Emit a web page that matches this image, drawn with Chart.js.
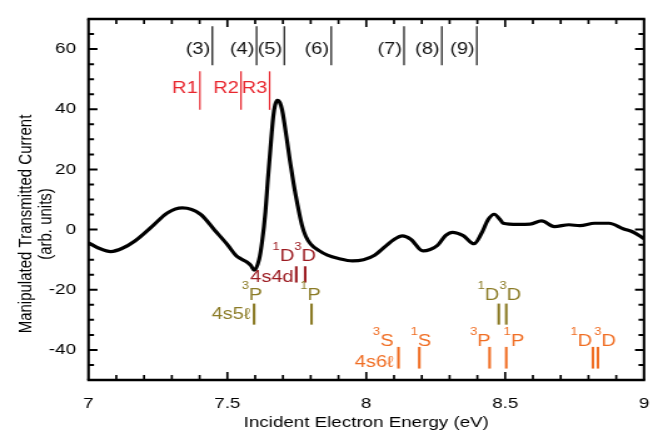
<!DOCTYPE html>
<html>
<head>
<meta charset="utf-8">
<script src="https://cdn.jsdelivr.net/npm/chart.js@4.4.0/dist/chart.umd.min.js"></script>
<style>
html,body{margin:0;padding:0;background:#fff;overflow:hidden;}
#wrap{position:absolute;left:0;top:0;width:534px;height:433px;transform:scaleX(1.250936);transform-origin:0 0;}
canvas{display:block;}
</style>
</head>
<body>
<div id="wrap"><canvas id="c" width="534" height="433"></canvas></div>
<script>
// ---------- data ----------
const energyEV = [7.00, 7.04, 7.08, 7.12, 7.167, 7.232, 7.285, 7.338, 7.403, 7.455, 7.50, 7.53, 7.55, 7.57, 7.585, 7.596,
  7.614, 7.625, 7.637, 7.646, 7.655, 7.665, 7.672, 7.68, 7.689, 7.697, 7.705, 7.714, 7.725, 7.738, 7.752, 7.768, 7.782,
  7.80, 7.83, 7.86, 7.90, 7.95, 7.99,
  8.03, 8.07, 8.10, 8.13, 8.16, 8.204, 8.23, 8.257, 8.285, 8.31, 8.349, 8.388, 8.414, 8.44, 8.461, 8.48, 8.493, 8.546,
  8.59, 8.631, 8.677, 8.73, 8.769, 8.822, 8.874, 8.927, 8.96, 9.00];
const transmitted = [-4.4, -6.3, -7.3, -6.3, -3.8, 1.3, 5.6, 7.2, 5.1, -0.3, -5.0, -8.5, -9.8, -10.8, -12.0, -13.5,
  -10.0, -4.0, 6.0, 17.0, 27.0, 37.5, 41.5, 43.0, 42.2, 39.8, 35.5, 30.0, 23.0, 15.5, 8.5, 1.6, -2.2,
  -4.8, -7.0, -8.5, -9.6, -10.4, -10.0,
  -8.5, -5.5, -3.3, -2.1, -3.2, -7.1, -6.6, -5.2, -2.0, -0.9, -2.0, -4.7, -1.4, 3.5, 5.1, 3.5, 2.1, 1.7,
  1.8, 2.9, 1.0, 1.6, 1.3, 2.1, 2.1, 0.2, -0.8, -3.0];
const xTickValues = [7, 7.5, 8, 8.5, 9];
const yTickValues = [-40, -20, 0, 20, 40, 60];
const featureLabels = ['(3)', '(4)', '(5)', '(6)', '(7)', '(8)', '(9)'];
const featureEnergies = [7.446, 7.605, 7.705, 7.874, 8.136, 8.272, 8.398];
const resonanceLabels = ['R1', 'R2', 'R3'];
const resonanceEnergies = [7.401, 7.549, 7.652];
const terms4s4d = ['1D', '3D'];
const energies4s4d = [7.748, 7.780];
const terms4s5l = ['3P', '1P', '1D', '3D'];
const energies4s5l = [7.596, 7.803, 8.477, 8.504];
const terms4s6l = ['3S', '1S', '3P', '1P', '1D', '3D'];
const energies4s6l = [8.116, 8.191, 8.444, 8.504, 8.816, 8.834];

// ---------- layout / style ----------
const SX = 668 / 534;
const FAM = "'Liberation Sans', Arial, Helvetica, sans-serif";
const rowFeat = {top: 67.6, bottom: 54.6, text: 59.9, color: '#111111'};
const rowRes = {top: 52.6, bottom: 39.8, text: 46.8, color: '#e8262e'};
const groups = [
  {name: '4s4d', terms: terms4s4d, energies: energies4s4d, color: '#9c1c22', top: -12.2, bottom: -17.6, gap: 5,
   nameGap: 2.6, nameDy: 3, place: [['right', -2], ['center', 0]]},
  {name: '4s5ℓ', terms: terms4s5l, energies: energies4s5l, color: '#8b7b26', top: -24.6, bottom: -31.6, gap: 3.5,
   nameGap: 3.7, nameDy: 0.5, place: [['center', -2], ['center', -1], ['right', 0.5], ['center', 4]]},
  {name: '4s6ℓ', terms: terms4s6l, energies: energies4s6l, color: '#f06e24', top: -39, bottom: -46.2, gap: 0.5,
   nameGap: 5, nameDy: 4.5, place: [['right', -5], ['center', 1.5], ['right', 1], ['left', -2.7], ['right', -0.7], ['left', -3.7]]}
];

function drawTerm(ctx, term, x, base, align, color) {
  const sup = term.charAt(0), main = term.slice(1);
  ctx.font = '10.5px ' + FAM;
  const ws = ctx.measureText(sup).width;
  ctx.font = '16px ' + FAM;
  const wm = ctx.measureText(main).width;
  const w = ws + wm;
  const x0 = align === 'right' ? x - w : (align === 'center' ? x - w / 2 : x);
  ctx.fillStyle = color;
  ctx.textAlign = 'left';
  ctx.textBaseline = 'alphabetic';
  ctx.font = '10.5px ' + FAM;
  ctx.fillText(sup, x0, base - 11.5);
  ctx.font = '16px ' + FAM;
  ctx.fillText(main, x0 + ws, base);
}

const framePlugin = {
  id: 'frame',
  afterDraw(chart) {
    const {ctx, chartArea: a, scales: {x, y}} = chart;
    ctx.save();
    ctx.strokeStyle = '#000';
    ctx.lineCap = 'butt';
    ctx.lineWidth = 2.5;
    ctx.beginPath();
    ctx.moveTo(a.left - 1, a.top); ctx.lineTo(a.right + 1, a.top);
    ctx.moveTo(a.left - 1, a.bottom); ctx.lineTo(a.right + 1, a.bottom);
    ctx.stroke();
    ctx.lineWidth = 2.1;
    ctx.beginPath();
    ctx.moveTo(a.left, a.top); ctx.lineTo(a.left, a.bottom);
    ctx.moveTo(a.right, a.top); ctx.lineTo(a.right, a.bottom);
    ctx.stroke();
    ctx.lineWidth = 1.7;
    ctx.beginPath();
    for (let i = 1; i < 20; i++) {
      const e = 7 + i / 10;
      const len = (i % 5 === 0) ? 8 : 5;
      const px = x.getPixelForValue(e);
      ctx.moveTo(px, a.bottom); ctx.lineTo(px, a.bottom - len);
      ctx.moveTo(px, a.top); ctx.lineTo(px, a.top + len);
    }
    ctx.stroke();
    ctx.lineWidth = 2;
    ctx.beginPath();
    for (let v = -45; v <= 65; v += 5) {
      const len = (v % 20 === 0) ? 7.2 : 4.4;
      const py = y.getPixelForValue(v);
      ctx.moveTo(a.left, py); ctx.lineTo(a.left + len, py);
      ctx.moveTo(a.right, py); ctx.lineTo(a.right - len, py);
    }
    ctx.stroke();
    ctx.fillStyle = '#000';
    ctx.font = '15px ' + FAM;
    ctx.textAlign = 'center';
    ctx.textBaseline = 'middle';
    ctx.fillText('Incident Electron Energy (eV)', (a.left + a.right) / 2, 423);
    ctx.translate(0, 224);
    ctx.rotate(-Math.PI / 2);
    ctx.fillText('Manipulated Transmitted Current', 0, 20.6);
    ctx.fillText('(arb. units)', 0, 37.3);
    ctx.restore();
  }
};

const annotPlugin = {
  id: 'annot',
  afterDatasetsDraw(chart) {
    const {ctx, scales: {x, y}} = chart;
    const X = e => x.getPixelForValue(e), Y = v => y.getPixelForValue(v);
    ctx.save();
    [[featureEnergies, featureLabels, rowFeat], [resonanceEnergies, resonanceLabels, rowRes]].forEach(([es, labs, row]) => {
      ctx.strokeStyle = row.color;
      ctx.fillStyle = row.color;
      ctx.lineWidth = 1.2;
      ctx.font = '16px ' + FAM;
      ctx.textAlign = 'right';
      ctx.textBaseline = 'middle';
      es.forEach((e, i) => {
        const px = X(e);
        ctx.beginPath();
        ctx.moveTo(px, Y(row.top)); ctx.lineTo(px, Y(row.bottom));
        ctx.stroke();
        ctx.fillText(labs[i], px - 2.2 / SX, Y(row.text));
      });
    });
    groups.forEach(g => {
      ctx.strokeStyle = g.color;
      ctx.lineWidth = 2.1;
      const yt = Y(g.top), yb = Y(g.bottom);
      g.energies.forEach((e, i) => {
        const px = X(e);
        ctx.beginPath();
        ctx.moveTo(px, yt); ctx.lineTo(px, yb);
        ctx.stroke();
        const [al, dx] = g.place[i];
        drawTerm(ctx, g.terms[i], px + dx / SX, yt - g.gap, al, g.color);
      });
      ctx.fillStyle = g.color;
      ctx.font = '16px ' + FAM;
      ctx.textAlign = 'right';
      ctx.textBaseline = 'middle';
      ctx.fillText(g.name, X(g.energies[0]) - g.nameGap / SX, (yt + yb) / 2 + g.nameDy);
    });
    ctx.restore();
  }
};

new Chart(document.getElementById('c'), {
  type: 'line',
  data: {
    datasets: [{
      data: energyEV.map((e, i) => ({x: e, y: transmitted[i]})),
      borderColor: '#000',
      borderWidth: 3.2,
      pointRadius: 0,
      cubicInterpolationMode: 'monotone',
      fill: false
    }]
  },
  options: {
    responsive: false,
    animation: false,
    devicePixelRatio: 1,
    layout: {padding: {left: 0, right: 12.4, top: 9.5, bottom: 0}},
    plugins: {legend: {display: false}, tooltip: {enabled: false}, title: {display: false}},
    scales: {
      x: {
        type: 'linear', min: 7, max: 9,
        afterFit(s) { s.height = 53; },
        afterBuildTicks(s) { s.ticks = xTickValues.map(v => ({value: v})); },
        grid: {display: false, drawTicks: false},
        border: {display: false},
        ticks: {padding: 15, color: '#000', maxRotation: 0, autoSkip: false,
                font: {family: FAM, size: 15}, callback: v => String(v)}
      },
      y: {
        type: 'linear', min: -50, max: 70,
        afterFit(s) { s.width = 70.75; },
        afterBuildTicks(s) { s.ticks = yTickValues.map(v => ({value: v})); },
        grid: {display: false, drawTicks: false},
        border: {display: false},
        ticks: {padding: 10, color: '#000', autoSkip: false,
                font: {family: FAM, size: 15}, callback: v => String(v)}
      }
    }
  },
  plugins: [framePlugin, annotPlugin]
});
</script>
</body>
</html>
